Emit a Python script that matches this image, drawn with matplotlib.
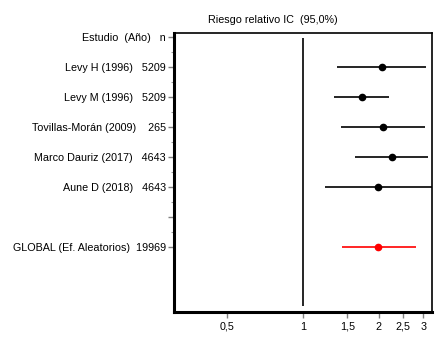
import numpy as np
import matplotlib.pyplot as plt

plt.rcParams['font.family'] = ['Liberation Sans', 'DejaVu Sans']

# Forest plot data (relative risk, 95% CI)
labels = ['Estudio  (Año)   n',
          'Levy H (1996)   5209',
          'Levy M (1996)   5209',
          'Tovillas-Morán (2009)    265',
          'Marco Dauriz (2017)   4643',
          'Aune D (2018)   4643',
          '',
          'GLOBAL (Ef. Aleatorios)  19969']
studies_rr = [2.06, 1.71, 2.07, 2.25, 1.99]
studies_lo = [1.37, 1.33, 1.42, 1.61, 1.23]
studies_hi = [3.07, 2.19, 3.04, 3.12, 3.40]
global_rr = 1.99
global_lo = 1.43
global_hi = 2.80
xticks = [0.5, 1, 1.5, 2, 2.5, 3]
xticklabels = ['0,5', '1', '1,5', '2', '2,5', '3']

fs = 7.75

fig = plt.figure(figsize=(4.46, 3.61), dpi=100)
ax = fig.add_axes([174 / 446, 1 - 312 / 361, 258 / 446, 279 / 361])

ax.set_xscale('log')
ax.set_xlim(0.309, 3.25)
ax.set_ylim(9.17, -0.133)

rows = np.arange(1, 6)
ax.hlines(rows, studies_lo, studies_hi, color='black', lw=1.2)
ax.plot(studies_rr, rows, 'o', color='black', ms=4.5)
ax.hlines(7, global_lo, global_hi, color='red', lw=1.2)
ax.plot([global_rr], [7], 'o', color='red', ms=4.5)

ax.vlines(1, 0.03, 8.97, color='black', lw=1.2)

ax.set_yticks(range(len(labels)))
ax.set_yticklabels(labels, fontsize=fs)
ax.set_yticks(np.arange(0.5, 7, 0.5), minor=True)
ax.tick_params(axis='y', which='major', length=4, width=1, color='gray', pad=2)
ax.tick_params(axis='y', which='minor', length=2, width=0.8, color='#999999')

ax.set_xticks(xticks)
ax.set_xticklabels(xticklabels, fontsize=fs)
ax.xaxis.set_minor_locator(plt.NullLocator())
ax.tick_params(axis='x', which='major', length=4, width=1, color='gray', pad=3)

ax.spines['left'].set_linewidth(2.2)
ax.spines['bottom'].set_linewidth(2.2)
ax.spines['top'].set_linewidth(1.2)
ax.spines['right'].set_linewidth(1.2)

fig.text(273 / 446, 1 - 20 / 361, 'Riesgo relativo IC  (95,0%)',
         ha='center', va='center', fontsize=fs)

plt.savefig('out.png', dpi=100)
